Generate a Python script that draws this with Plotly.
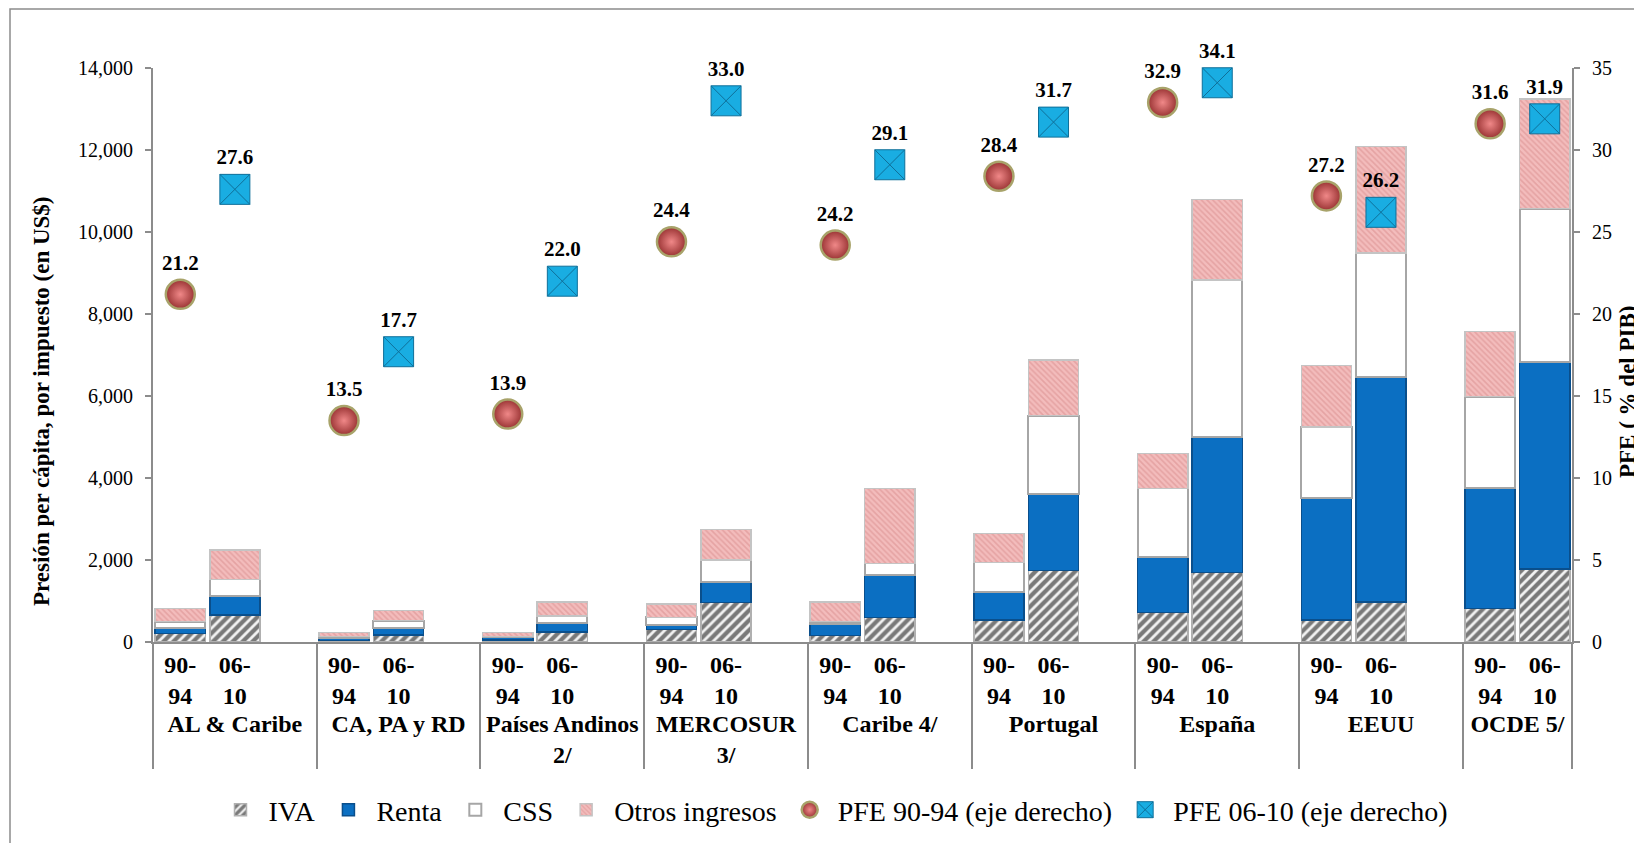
"""Presión per cápita por impuesto y PFE (% del PIB), 90-94 vs 06-10."""

import plotly.graph_objects as go
from plotly.subplots import make_subplots

# ── Data ──────────────────────────────────────────────────────────────────────
groups = [
    "AL & Caribe", "CA, PA y RD", "Países Andinos<br>2/", "MERCOSUR<br>3/",
    "Caribe 4/", "Portugal", "España", "EEUU", "OCDE 5/",
]
periods = ["90-<br>94", "06-<br>10"]

iva_90 = [210, 40, 50, 310, 160, 535, 725, 535, 820]
iva_06 = [660, 170, 250, 960, 600, 1740, 1690, 975, 1775]
renta_90 = [140, 60, 60, 110, 280, 695, 1355, 2985, 2930]
renta_06 = [460, 160, 220, 510, 1025, 1860, 3300, 5500, 5065]
css_90 = [150, 40, 30, 180, 60, 710, 1670, 1720, 2235]
css_06 = [410, 190, 165, 530, 295, 1920, 3840, 3010, 3730]
otros_90 = [320, 90, 90, 325, 470, 710, 850, 1500, 1585]
otros_06 = [715, 245, 335, 750, 1830, 1360, 1960, 2605, 2670]

pfe_90 = [21.2, 13.5, 13.9, 24.4, 24.2, 28.4, 32.9, 27.2, 31.6]
pfe_06 = [27.6, 17.7, 22.0, 33.0, 29.1, 31.7, 34.1, 26.2, 31.9]

FONT = "Liberation Serif"
AXIS_GREY = "#8c8c8c"

# plot area (page pixels; the page body adds an 8px offset)
PX_L, PX_R, PX_T, PX_B = 153, 1572, 68, 642


def px(x, y):
    """Page pixel -> paper coordinates."""
    return (x - PX_L) / (PX_R - PX_L), (PX_B - y) / (PX_B - PX_T)


# ── Slots: 90-94, 06-10 and a blank spacer per group (none after the last) ──
def slots(v90, v06):
    xg, xs, ys = [], [], []
    for i, g in enumerate(groups):
        xg += [g, g]
        xs += periods
        ys += [v90[i], v06[i]]
        if i < len(groups) - 1:
            xg.append(g)
            xs.append(" ")
            ys.append(None)
    return [xg, xs], ys


fig = make_subplots(specs=[[{"secondary_y": True}]])

bars = [
    ("IVA", iva_90, iva_06, dict(
        color="#ffffff",
        pattern=dict(shape="/", fgcolor="#000000", bgcolor="#f2f2f2", size=7, solidity=0.6),
        line=dict(color="#b0b0b0", width=1.5))),
    ("Renta", renta_90, renta_06, dict(
        color="#0b6fc2", line=dict(color="#0a4f8c", width=1.5))),
    ("CSS", css_90, css_06, dict(
        color="#ffffff", line=dict(color="#a6a6a6", width=2))),
    ("Otros ingresos", otros_90, otros_06, dict(
        color="#f0b2b2",
        pattern=dict(shape="\\", fgcolor="#d88a8a", bgcolor="#f3bcbc", size=4, solidity=0.4),
        line=dict(color="#c4c4c4", width=1.5))),
]
for name, v90, v06, marker in bars:
    x, y = slots(v90, v06)
    fig.add_trace(go.Bar(name=name, x=x, y=y, marker=marker), secondary_y=False)

fig.add_trace(go.Scatter(
    name="PFE 90-94 (eje derecho)",
    x=[groups, [periods[0]] * len(groups)], y=pfe_90,
    mode="markers+text",
    marker=dict(symbol="circle", size=29, color="#9a3434",
                gradient=dict(type="radial", color="#f08888"),
                line=dict(color="#a8a36a", width=2.5)),
    texttemplate="%{y:.1f}", textposition="top center",
    textfont=dict(family=FONT, size=21, color="black", weight="bold"),
    cliponaxis=False,
), secondary_y=True)

fig.add_trace(go.Scatter(
    name="PFE 06-10 (eje derecho)",
    x=[groups, [periods[1]] * len(groups)], y=pfe_06,
    mode="markers+text",
    marker=dict(symbol="square-x", size=30, color="#19ade2",
                line=dict(color="#0f6f99", width=1)),
    texttemplate="%{y:.1f}", textposition="top center",
    textfont=dict(family=FONT, size=21, color="black", weight="bold"),
    cliponaxis=False,
), secondary_y=True)

n_slots = 3 * len(groups) - 1
lx, ly = px(833, 810)
tx1, ty1 = px(41, 401)
tx2, ty2 = px(1627, 392)
bx0, by1 = px(10, 9)

fig.update_layout(
    width=1642, height=843,
    barmode="stack", bargap=0.08,
    paper_bgcolor="white", plot_bgcolor="white",
    font=dict(family=FONT, size=20, color="black"),
    margin=dict(l=PX_L - 8, r=1642 - PX_R + 8, t=PX_T - 8, b=843 - PX_B + 8),
    legend=dict(
        orientation="h", traceorder="normal",
        x=lx, xanchor="center", y=ly, yanchor="middle",
        font=dict(family=FONT, size=28, color="black"),
        itemwidth=46, bgcolor="rgba(0,0,0,0)",
    ),
    shapes=[dict(
        type="rect", xref="paper", yref="paper",
        x0=bx0, x1=1.2, y0=-0.5, y1=by1,
        line=dict(color=AXIS_GREY, width=1.5), layer="below",
    )],
    annotations=[
        dict(text="<b>Presión per cápita, por impuesto (en US$)</b>",
             xref="paper", yref="paper", x=tx1, y=ty1,
             xanchor="center", yanchor="middle",
             textangle=-90, showarrow=False, font=dict(family=FONT, size=23)),
        dict(text="<b>PFE ( % del PIB)</b>",
             xref="paper", yref="paper", x=tx2, y=ty2,
             xanchor="center", yanchor="middle",
             textangle=-90, showarrow=False, font=dict(family=FONT, size=23)),
    ],
)

fig.update_xaxes(
    type="multicategory", tickangle=0, automargin=False, domain=[0, 1],
    range=[-0.5, n_slots - 0.5],
    showline=True, linecolor=AXIS_GREY, linewidth=2,
    showgrid=False, ticks="",
    showdividers=True, dividercolor=AXIS_GREY, dividerwidth=2,
    tickfont=dict(family=FONT, size=24, color="black", weight="bold"),
)
fig.update_yaxes(
    range=[0, 14000], dtick=2000, tickformat=",", automargin=False,
    showline=True, linecolor=AXIS_GREY, linewidth=2,
    ticks="outside", ticklen=6, tickcolor=AXIS_GREY, tickwidth=2,
    showgrid=False, zeroline=False, ticklabelstandoff=8,
    secondary_y=False,
)
fig.update_yaxes(
    range=[0, 35], dtick=5, automargin=False,
    showline=True, linecolor=AXIS_GREY, linewidth=2,
    ticks="outside", ticklen=6, tickcolor=AXIS_GREY, tickwidth=2,
    showgrid=False, zeroline=False, ticklabelstandoff=8,
    secondary_y=True,
)

fig.write_html("out.html")
